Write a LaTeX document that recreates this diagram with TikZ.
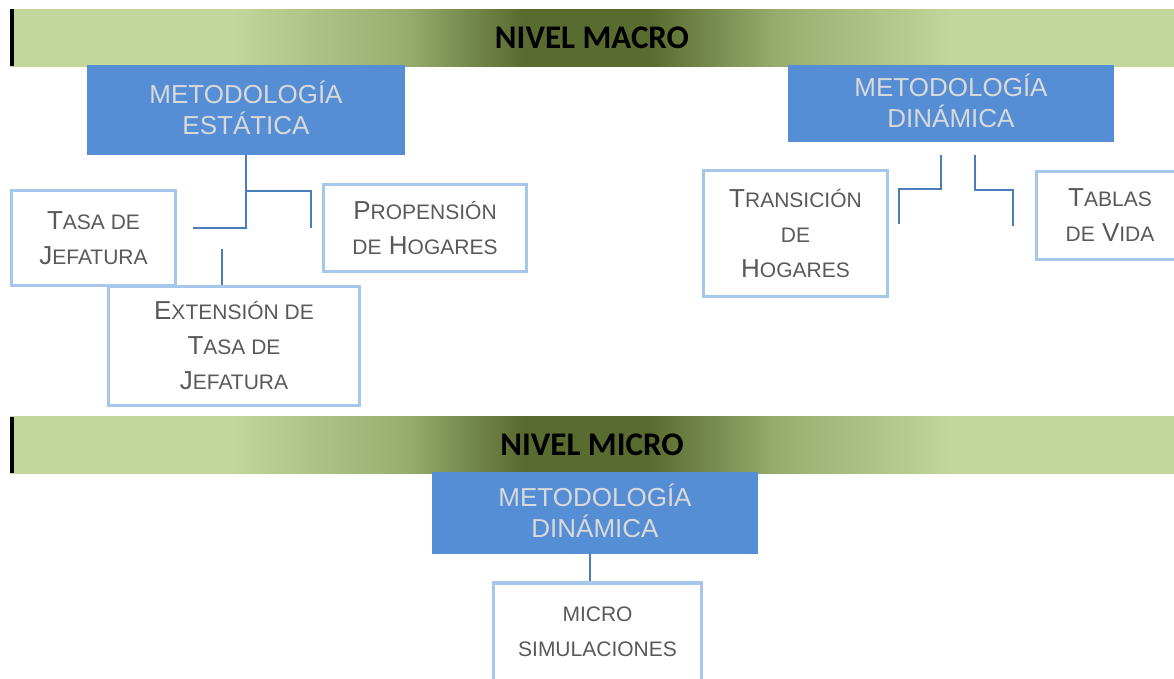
\documentclass[tikz,border=0pt]{standalone}
\usepackage{fontspec}
\setmainfont{Liberation Sans}
\newfontfamily\barfont{Carlito}
\usepackage{tikz}

\definecolor{barlight}{HTML}{C3D69B}
\definecolor{barmid}{HTML}{98AD6E}
\definecolor{bardark}{HTML}{5A6B30}
\definecolor{boxblue}{HTML}{558ED5}
\definecolor{boxtext}{HTML}{D9D9D9}
\definecolor{edgeblue}{HTML}{A6C7EB}
\definecolor{linkblue}{HTML}{4A7EBB}
\definecolor{textgray}{HTML}{595959}

\pgfdeclarehorizontalshading{levelbar}{100bp}{color(0bp)=(barlight); color(34.5bp)=(barlight); color(42bp)=(barmid); color(47bp)=(bardark); color(52.5bp)=(bardark); color(58bp)=(barmid); color(65.5bp)=(barlight); color(100bp)=(barlight)}

\newcommand{\smcap}[1]{{\fontsize{21}{35}\selectfont #1}}

\tikzset{
  barnode/.style={shade, shading=levelbar, minimum width=1164pt, minimum height=57pt, inner sep=0pt, font=\barfont\bfseries\fontsize{33}{33}\selectfont},
  method/.style={fill=boxblue, text=boxtext, inner sep=0pt, align=center, font=\fontsize{26}{31}\selectfont},
  topic/.style={draw=edgeblue, line width=3.5pt, fill=white, text=textgray, inner sep=0pt, align=center, font=\fontsize{26}{35}\selectfont},
  link/.style={draw=linkblue, line width=1.5pt}
}

\begin{document}
\begin{tikzpicture}[x=1pt,y=-1pt]
    \clip (0,0) rectangle (1174,678);
    \node[barnode] (macrobar) at (592,37.5) {NIVEL MACRO};
    \fill (10,9) rectangle (14,66);
    \node[barnode] (microbar) at (592,445) {NIVEL MICRO};
    \fill (10,417) rectangle (14,473);

    \node[method, minimum width=318pt, minimum height=90pt] (estatica) at (246,110) {METODOLOG\smash{Í}A\\ESTÁTICA};
    \node[method, minimum width=326pt, minimum height=77pt] (dinmacro) at (951,103.5) {METODOLOG\smash{Í}A\\DINÁMICA};
    \node[method, minimum width=326pt, minimum height=82pt] (dinmicro) at (595,513) {METODOLOG\smash{Í}A\\DINÁMICA};

    \node[topic, minimum width=164pt, minimum height=95pt] (tasa) at (93.5,238) {T\smcap{ASA DE}\\J\smcap{EFATURA}};
    \node[topic, minimum width=203pt, minimum height=87pt] (propension) at (425,228) {P\smcap{ROPENSIÓN}\\\smcap{DE} H\smcap{OGARES}};
    \node[topic, minimum width=251pt, minimum height=119pt] (extension) at (234,346) {E\smcap{XTENSIÓN DE}\\T\smcap{ASA DE}\\J\smcap{EFATURA}};
    \node[topic, minimum width=184pt, minimum height=126pt] (transicion) at (795.5,233.5) {T\smcap{RANSICIÓN}\\\smcap{DE}\\H\smcap{OGARES}};
    \node[topic, minimum width=147pt, minimum height=88pt] (tablas) at (1110,215.5) {T\smcap{ABLAS}\\\smcap{DE} V\smcap{IDA}};
    \node[topic, minimum width=208pt, minimum height=98pt] (microsim) at (597.5,632) {\smcap{MICRO}\\\smcap{SIMULACIONES}};

    \coordinate (tasaend) at (193,228);
    \coordinate (propend) at (311,228);
    \coordinate (exttop) at (222,249);
    \draw[link] (estatica.south) |- (tasaend);
    \draw[link] (estatica.south) ++(0,36) -| (propend);
    \draw[link] (exttop) -- (exttop |- extension.north);

    \coordinate (transstart) at ([xshift=-10pt,yshift=-13pt]dinmacro.south);
    \coordinate (transend) at (899,224);
    \coordinate (tablasstart) at ([xshift=24pt,yshift=-13pt]dinmacro.south);
    \coordinate (tablasend) at (1013,226);
    \draw[link] (transstart) -- ++(0,34) -| (transend);
    \draw[link] (tablasstart) -- ++(0,35) -| (tablasend);

    \draw[link] ([xshift=-5pt]dinmicro.south) -- ([xshift=-7.5pt]microsim.north);
\end{tikzpicture}
\end{document}
